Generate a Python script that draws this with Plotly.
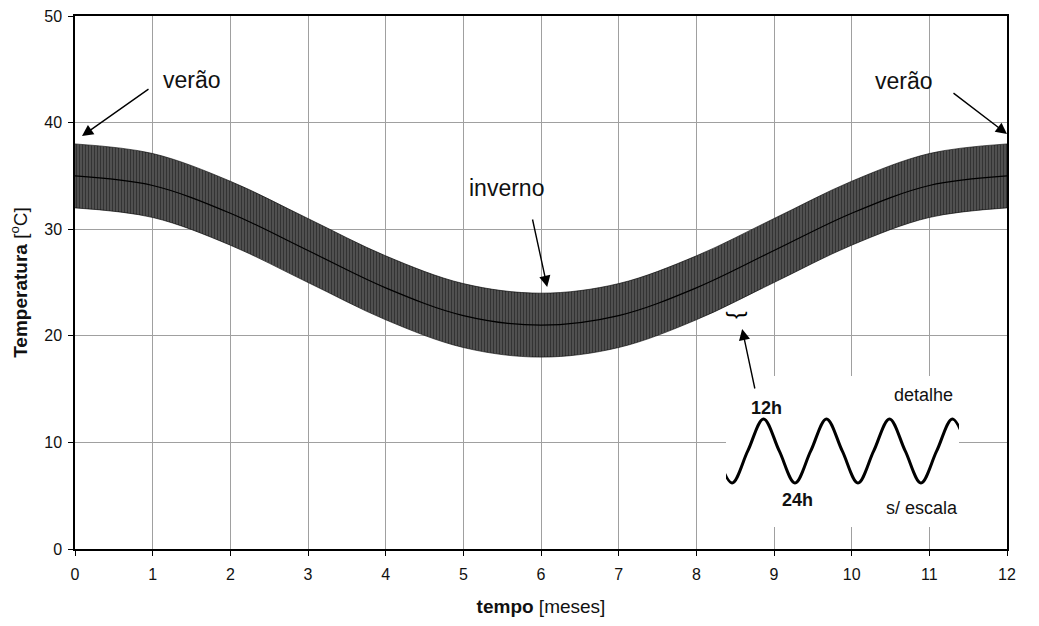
import plotly.graph_objects as go

# ---- data ----
months = [0, 1, 2, 3, 4, 5, 6, 7, 8, 9, 10, 11, 12]
temp_mean = [35.0, 34.1, 31.5, 28.0, 24.5, 21.9, 21.0, 21.9, 24.5, 28.0, 31.5, 34.1, 35.0]
temp_upper = [38.0, 37.1, 34.5, 31.0, 27.5, 24.9, 24.0, 24.9, 27.5, 31.0, 34.5, 37.1, 38.0]
temp_lower = [32.0, 31.1, 28.5, 25.0, 21.5, 18.9, 18.0, 18.9, 21.5, 25.0, 28.5, 31.1, 32.0]

# inset detail (not to scale): hours vs normalised daily swing
detail_hours = [-6, 0, 6, 12, 18, 24, 30, 36, 42, 48, 54, 60, 66, 72, 78, 84, 90]
detail_swing = [0, -1, 0, 1, 0, -1, 0, 1, 0, -1, 0, 1, 0, -1, 0, 1, 0]

x_ticks = list(range(0, 13))
y_ticks = [0, 10, 20, 30, 40, 50]

FONT = "Liberation Sans, Arial, sans-serif"

fig = go.Figure()

fig.add_trace(go.Scatter(
    x=months, y=temp_lower, mode="lines", line=dict(color="black", width=0.6, shape="spline"),
    showlegend=False, hoverinfo="skip"))
fig.add_trace(go.Scatter(
    x=months, y=temp_upper, mode="lines", line=dict(color="black", width=0.6, shape="spline"),
    fill="tonexty",
    fillpattern=dict(shape="|", fgcolor="black", bgcolor="#666666", size=3, solidity=0.62),
    showlegend=False, hoverinfo="skip"))
fig.add_trace(go.Scatter(
    x=months, y=temp_mean, mode="lines", line=dict(color="black", width=1.2, shape="spline"),
    showlegend=False, hoverinfo="skip"))

# inset
fig.add_trace(go.Scatter(
    x=detail_hours, y=detail_swing, mode="lines", xaxis="x2", yaxis="y2",
    line=dict(color="black", width=3, shape="spline", smoothing=1.0),
    showlegend=False, hoverinfo="skip"))

x2_range = [-2.3, 86.5]
y2_range = [-2.375, 2.34]

fig.add_shape(type="rect", xref="x2", yref="y2", x0=x2_range[0], x1=x2_range[1],
              y0=y2_range[0], y1=y2_range[1], fillcolor="white", line=dict(width=0), layer="below")

axis_common = dict(showline=True, linecolor="black", linewidth=1.5, mirror=True,
                   ticks="outside", ticklen=5, tickcolor="black", tickwidth=1,
                   showgrid=True, gridcolor="#a0a0a0", gridwidth=1, zeroline=False,
                   automargin=False,
                   tickfont=dict(family=FONT, size=16, color="#111"))

fig.update_layout(
    width=1039, height=626,
    margin=dict(l=75, r=32, t=16, b=77),
    paper_bgcolor="white", plot_bgcolor="white",
    font=dict(family=FONT, color="#111"),
    xaxis=dict(range=[0, 12], tickvals=x_ticks, ticklabelstandoff=5, **axis_common,
               title=dict(text="<b>tempo</b> [meses]", font=dict(family=FONT, size=19, color="#111"), standoff=18)),
    yaxis=dict(range=[0, 50], tickvals=y_ticks, ticklabelstandoff=3, **axis_common,
               title=dict(text="<b>Temperatura</b> [<sup>o</sup>C]", font=dict(family=FONT, size=19, color="#111"), standoff=12)),
    xaxis2=dict(domain=[0.6985, 0.9485], anchor="y2", range=x2_range, visible=False),
    yaxis2=dict(domain=[0.0413, 0.3246], anchor="x2", range=y2_range, visible=False),
)

big = dict(family=FONT, size=23, color="#111")
small = dict(family=FONT, size=18, color="#111")
bold = dict(family=FONT, size=18, color="#111")

texts = [
    ("verão", 1.51, 44.0, big),
    ("verão", 10.67, 43.9, big),
    ("inverno", 5.56, 33.9, big),
    ("<b>12h</b>", 8.90, 13.2, bold),
    ("<b>24h</b>", 9.30, 4.6, bold),
    ("detalhe", 10.92, 14.45, small),
    ("s/ escala", 10.90, 3.85, small),
]
for t, x, y, f in texts:
    fig.add_annotation(x=x, y=y, xref="x", yref="y", text=t, showarrow=False, font=f)

fig.add_annotation(x=8.536, y=21.9, xref="x", yref="y", text="}", textangle=90, showarrow=False,
                   font=dict(family=FONT, size=22, color="black"))

arrows = [
    (0.09, 38.74, 68, -48),
    (12.0, 38.93, -55, -42),
    (6.08, 24.58, -15, -69),
    (8.59, 20.64, 13, 61),
]
for x, y, ax, ay in arrows:
    fig.add_annotation(x=x, y=y, xref="x", yref="y", text="", showarrow=True, ax=ax, ay=ay,
                       arrowhead=2, arrowsize=1.6, arrowwidth=1.4, arrowcolor="black", standoff=0)

fig.write_html("out.html", config={"displayModeBar": False},
               post_script="document.body.style.margin='0';document.body.style.overflow='hidden';")
